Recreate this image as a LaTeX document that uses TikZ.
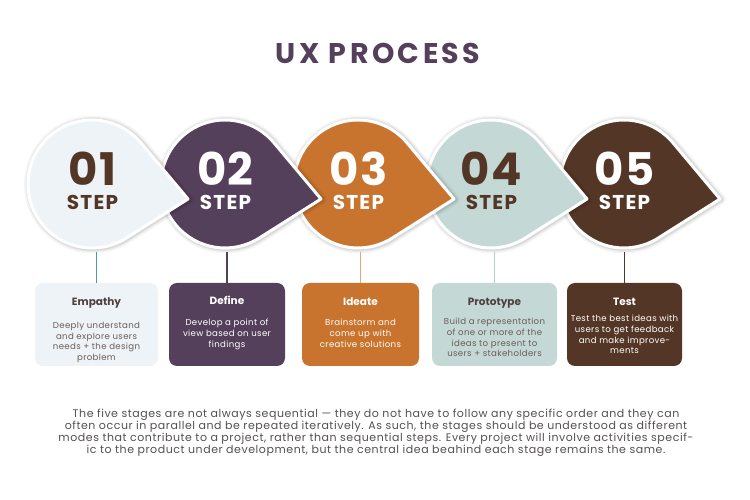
\documentclass[tikz,border=0pt]{standalone}
\usepackage{fontspec}
\setmainfont{Poppins}
\usetikzlibrary{calc}
\definecolor{cone}{HTML}{EDF3F6}
\definecolor{ctwo}{HTML}{54405A}
\definecolor{cthree}{HTML}{C8742E}
\definecolor{cfour}{HTML}{C4D9D6}
\definecolor{cfive}{HTML}{543626}
\definecolor{stemone}{HTML}{4E9AA3}
\definecolor{stemthree}{HTML}{E2A77A}
\definecolor{stemfour}{HTML}{B3CFCC}
\definecolor{darktxt}{HTML}{4F4040}
\definecolor{bodytxt}{HTML}{6A5D58}
\definecolor{paratxt}{HTML}{555050}
\tikzset{
  card/.style={rounded corners=8pt, minimum height=83pt, inner sep=0pt, draw=none},
  cardtitle/.style={anchor=base, inner sep=0pt, font=\bfseries\fontsize{10.5}{13}\selectfont},
  cardbody/.style={anchor=north, inner sep=0pt, align=center, font=\fontsize{8.6}{10.8}\selectfont\addfontfeatures{LetterSpace=4}},
  stemline/.style={line width=1.2pt},
  stepnum/.style={anchor=center, inner sep=0pt, align=center, font=\bfseries\fontsize{20}{24}\selectfont\addfontfeatures{LetterSpace=6}}
}
\newcommand\stepbig[1]{{\fontsize{45}{45}\selectfont\addfontfeatures{LetterSpace=3}#1}}
\begin{document}
\begin{tikzpicture}[x=1pt,y=1pt]
\fill[white] (0,0) rectangle (750,500);
\useasboundingbox (0,0) rectangle (750,500);

% title
\node[anchor=base, inner sep=0pt, text=ctwo, font=\bfseries\fontsize{28.5}{28.5}\selectfont\addfontfeatures{LetterSpace=12}] (title) at (378,436.5) {UX PROCESS};

% teardrop shapes, drawn from last to first
\foreach \i/\cx/\col in {5/624/cfive, 4/491/cfour, 3/358/cthree, 2/225/ctwo, 1/92/cone} {
  \foreach \w/\o in {10/0.035, 7/0.05, 4.5/0.07} {
    \draw[line width=\w pt, black, opacity=\o, line join=round]
      ($(\cx,316)+(96pt,-15pt)+(1pt,-0.5pt)$) -- ($(\cx,316)+(39.9:64pt)+(1pt,-0.5pt)$)
      arc[start angle=39.9, end angle=302.3, radius=64pt] -- cycle;
  }
  \draw[fill=\col, draw=white, line width=3pt, line join=round]
    ($(\cx,316)+(96pt,-15pt)$) -- ($(\cx,316)+(39.9:64pt)$)
    arc[start angle=39.9, end angle=302.3, radius=64pt] -- cycle;
  \coordinate (c\i) at (\cx,316);
}

% step labels
\node[stepnum, text=cfive] (n1) at (92.5,319.5) {\stepbig{01}\\STEP};
\node[stepnum, text=white] (n2) at (225.5,319.5) {\stepbig{02}\\STEP};
\node[stepnum, text=white] (n3) at (358.5,319.5) {\stepbig{03}\\STEP};
\node[stepnum, text=cfive] (n4) at (491.5,319.5) {\stepbig{04}\\STEP};
\node[stepnum, text=white] (n5) at (624.5,319.5) {\stepbig{05}\\STEP};

% cards
\node[card, fill=cone, minimum width=123pt] (b1) at (96.5,175.5) {};
\node[card, fill=ctwo, minimum width=116pt] (b2) at (227,175.5) {};
\node[card, fill=cthree, minimum width=117pt] (b3) at (360.5,175.5) {};
\node[card, fill=cfour, minimum width=125pt] (b4) at (494.5,175.5) {};
\node[card, fill=cfive, minimum width=115pt] (b5) at (624.5,175.5) {};

% stems
\coordinate (s1) at (96.5,248);
\coordinate (s2) at (227,248);
\coordinate (s3) at (360.5,248);
\coordinate (s4) at (494.5,248);
\coordinate (s5) at (624.5,248);
\draw[stemline, stemone] (s1) -- (b1.north);
\draw[stemline, ctwo] (s2) -- (b2.north);
\draw[stemline, stemthree] (s3) -- (b3.north);
\draw[stemline, stemfour] (s4) -- (b4.north);
\draw[stemline, cfive] (s5) -- (b5.north);

% card texts
\node[cardtitle, text=darktxt] (t1) at ($(b1.north)+(0,-23pt)$) {Empathy};
\node[cardbody, text=bodytxt] (d1) at ($(b1.north)+(0,-39pt)$) {Deeply understand\\and explore users\\needs + the design\\problem};
\node[cardtitle, text=white] (t2) at ($(b2.north)+(0,-22pt)$) {Define};
\node[cardbody, text=white] (d2) at ($(b2.north)+(0,-36pt)$) {Develop a point of\\view based on user\\findings};
\node[cardtitle, text=white] (t3) at ($(b3.north)+(0,-23pt)$) {Ideate};
\node[cardbody, text=white] (d3) at ($(b3.north)+(0,-36pt)$) {Brainstorm and\\come up with\\creative solutions};
\node[cardtitle, text=darktxt] (t4) at ($(b4.north)+(0,-23pt)$) {Prototype};
\node[cardbody, text=bodytxt] (d4) at ($(b4.north)+(0,-35pt)$) {Build a representation\\of one or more of the\\ideas to present to\\users + stakeholders};
\node[cardtitle, text=white] (t5) at ($(b5.north)+(0,-23pt)$) {Test};
\node[cardbody, text=white] (d5) at ($(b5.north)+(0,-32pt)$) {Test the best ideas with\\users to get feedback\\and make improve-\\ments};

% paragraph
\node[anchor=north, inner sep=0pt, align=center, text=paratxt, font=\fontsize{11}{12}\selectfont\addfontfeatures{LetterSpace=5}] (para) at (376,91.5) {The five stages are not always sequential — they do not have to follow any specific order and they can\\often occur in parallel and be repeated iteratively. As such, the stages should be understood as different\\modes that contribute to a project, rather than sequential steps. Every project will involve activities specif-\\ic to the product under development, but the central idea beahind each stage remains the same.};
\end{tikzpicture}
\end{document}
